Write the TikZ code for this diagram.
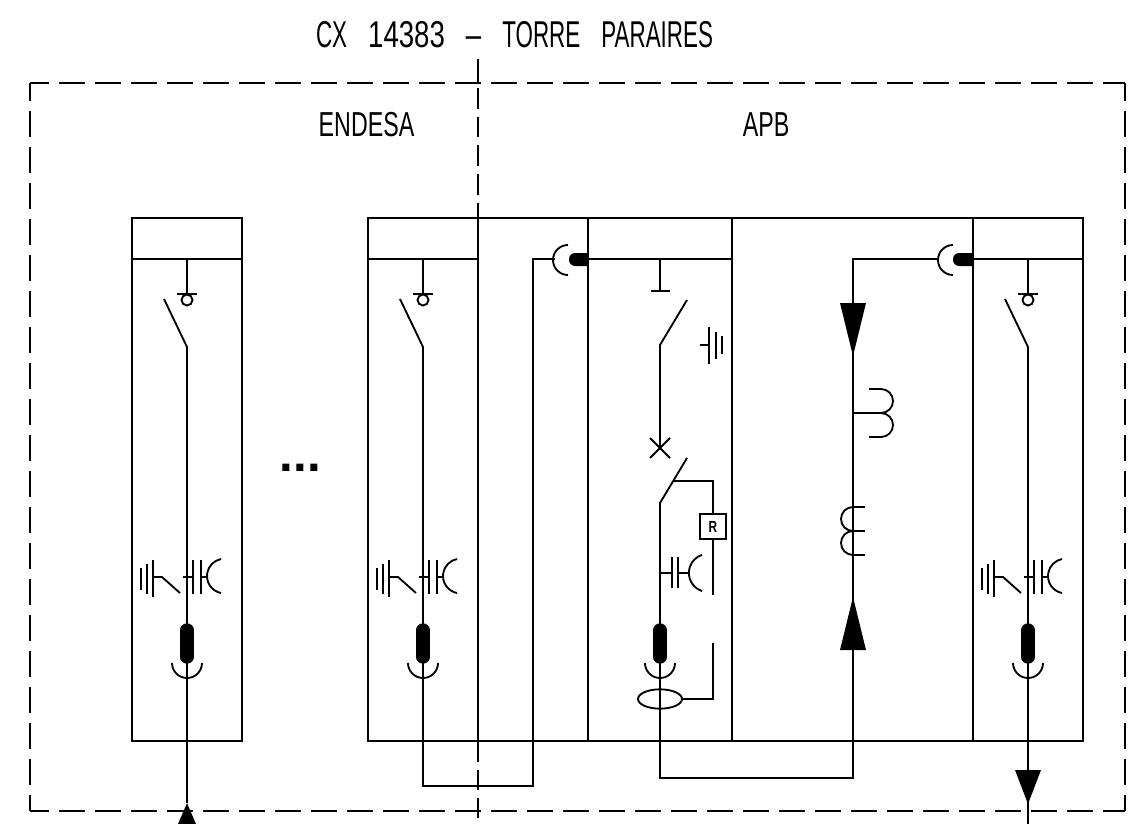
\documentclass[tikz,border=0pt]{standalone}
\usepackage{fontspec}
\setmainfont{Liberation Sans}
\newfontfamily\cadfont[FakeStretch=0.67]{Liberation Sans}
\newfontfamily\cadtitle[FakeStretch=0.6]{Liberation Sans}
\newfontfamily\caddigit[FakeStretch=0.74]{Liberation Sans}
\usetikzlibrary{shapes.geometric}
\tikzset{
  wall/.style={line width=1.6pt},
  wire/.style={line width=1.4pt},
  thinwire/.style={line width=0.9pt},
  border/.style={line width=1.4pt,dash pattern=on 19.5pt off 7.5pt},
  divide/.style={line width=1.4pt,dash pattern=on 15.5pt off 6pt},
  cadtext/.style={inner sep=0pt,anchor=base}
}
\newcommand{\titlegap}{\hspace{15.75pt}}
\begin{document}
\begin{tikzpicture}[x=0.75pt,y=-0.75pt]
\useasboundingbox (0,0) rectangle (1128,824);

\node[cadtext,font=\cadtitle\fontsize{28}{28}\selectfont] (title) at (514.5,48) {CX\titlegap{\caddigit 14383}\titlegap{\caddigit –}\titlegap TORRE\titlegap PARAIRES};
\node[cadtext,font=\cadfont\fontsize{26}{26}\selectfont] (endesa) at (366.5,137) {ENDESA};
\node[cadtext,font=\cadfont\fontsize{26}{26}\selectfont] (apb) at (766,137) {APB};
\node[cadtext,font=\bfseries\fontsize{37}{37}\selectfont] (dots) at (300.5,471) {...};

\draw[border,dash phase=5.25pt] (30,811) -- (1125,811);
\draw[border,dash phase=5.25pt] (30,83) -- (1125,83);
\draw[border,dash phase=7.5pt] (30,811) -- (30,83);
\draw[border,dash phase=7.5pt] (1125,811) -- (1125,83);
\draw[line width=1.4pt] (478,59) -- (478,83);
\draw[divide] (478,88) -- (478,218);
\draw[divide] (478,741) -- (478,818);

\draw[wall] (132,218) rectangle (242,741);
\draw[wall] (368,218) rectangle (1083,741);
\draw[wall] (478,218) -- (478,741);
\draw[wall] (588,218) -- (588,741);
\draw[wall] (732,218) -- (732,741);
\draw[wall] (973,218) -- (973,741);
\draw[wire] (132,259) -- (242,259);
\draw[wire] (368,259) -- (478,259);
\draw[wire] (588,259) -- (732,259);
\draw[wire] (973,259) -- (1083,259);

\foreach \stemx in {187,423,1028} {
\begin{scope}[shift={(\stemx,0)}]
\draw[wire] (0,259) -- (0,294);
\draw[wire] (-10,294) -- (10,294);
\draw[wire] (0,300) circle[radius=5.5];
\draw[wire] (-23,299) -- (0,347) -- (0,678);
\draw[line width=10pt,line cap=round] (0,630) -- (0,657);
\draw[wire] (-15,663) arc[start angle=180,end angle=0,radius=15];
\draw[wire] (-46,568) -- (-46,590);
\draw[wire] (-40,564) -- (-40,594);
\draw[wire] (-34,560) -- (-34,597);
\draw[wire] (-34,577) -- (-25,577) -- (-7,593);
\draw[wire] (-4,577) -- (6,577);
\draw[wire] (6,560) -- (6,594);
\draw[wire] (14,560) -- (14,594);
\draw[wire] (14,577) -- (20,577);
\draw[wire] (34,593) arc[start angle=101,end angle=259,radius=17.3];
\end{scope}
}

\coordinate (feedin) at (187,678);
\coordinate (feedtip) at (187,803);
\draw[thinwire] (feedin) -- (feedtip);
\fill (feedtip) -- (178,824) -- (196,824) -- cycle;

\coordinate (feedout) at (1028,678);
\coordinate (feedend) at (1028,824);
\draw[thinwire] (feedout) -- (feedend);
\fill (1015,770) -- (1041,770) -- (1028,804) -- cycle;

\coordinate (cableA) at (423,678);
\coordinate (cableB) at (533,786);
\coordinate (cableC) at (555,259);
\draw[wire] (cableA) |- (cableB) |- (cableC);
\draw[wire] (568,245) arc[start angle=-90,end angle=-270,radius=15];
\fill (588,253) [rounded corners=4.5pt] -- (569,253) -- (569,266) [sharp corners] -- (588,266) -- cycle;

\draw[wire] (660,259) -- (660,291);
\draw[wire] (651,291) -- (670,291);
\draw[wire] (687,300) -- (660,345) -- (660,448);
\draw[wire] (700,345) -- (709,345);
\draw[wire] (709,327) -- (709,364);
\draw[wire] (716,332) -- (716,359);
\draw[wire] (722,336) -- (722,354);
\draw[wire] (650,438) -- (670,458);
\draw[wire] (650,458) -- (670,438);
\draw[wire] (687,458) -- (660,503) -- (660,678);

\node[draw,wire,minimum width=19.5pt,minimum height=18.5pt,inner sep=0pt,font=\caddigit\bfseries\fontsize{12}{12}\selectfont] (relay) at (713,526.5) {R};
\coordinate (trip) at (674,481);
\coordinate (relayend) at (713,595);
\draw[wire] (trip) -| (relay.north);
\draw[wire] (relay.south) -- (relayend);
\draw[wire] (660,573) -- (672,573);
\draw[wire] (672,557) -- (672,588);
\draw[wire] (678,557) -- (678,588);
\draw[wire] (678,573) -- (689,573);
\draw[wire] (702,591) arc[start angle=108,end angle=252,radius=19];
\draw[line width=10pt,line cap=round] (660,630) -- (660,657);
\draw[wire] (645,663) arc[start angle=180,end angle=0,radius=15];

\node[draw,wire,ellipse,minimum width=33pt,minimum height=14.5pt,inner sep=0pt] (sensor) at (660,699) {};
\coordinate (sensorend) at (713,643);
\draw[wire] (sensor.east) -| (sensorend);

\coordinate (busA) at (660,678);
\coordinate (busB) at (853,778);
\coordinate (busC) at (938,259);
\draw[wire] (busA) |- (busB) |- (busC);
\draw[wire] (953,245) arc[start angle=-90,end angle=-270,radius=15];
\fill (973,253) [rounded corners=4.5pt] -- (953,253) -- (953,266) [sharp corners] -- (973,266) -- cycle;

\fill (840,303) -- (866,303) -- (853,356) -- cycle;
\fill (840,650) -- (866,650) -- (853,597) -- cycle;

\draw[wire] (853,413) -- (881,413);
\draw[wire] (869,389) -- (881,389) arc[start angle=-90,end angle=90,radius=12] arc[start angle=-90,end angle=90,radius=12] -- (869,437);
\draw[wire] (865,507) -- (853,507) arc[start angle=-90,end angle=-270,radius=12] arc[start angle=-90,end angle=-270,radius=12] -- (865,555);
\draw[wire] (853,531) -- (865,531);
\end{tikzpicture}
\end{document}
